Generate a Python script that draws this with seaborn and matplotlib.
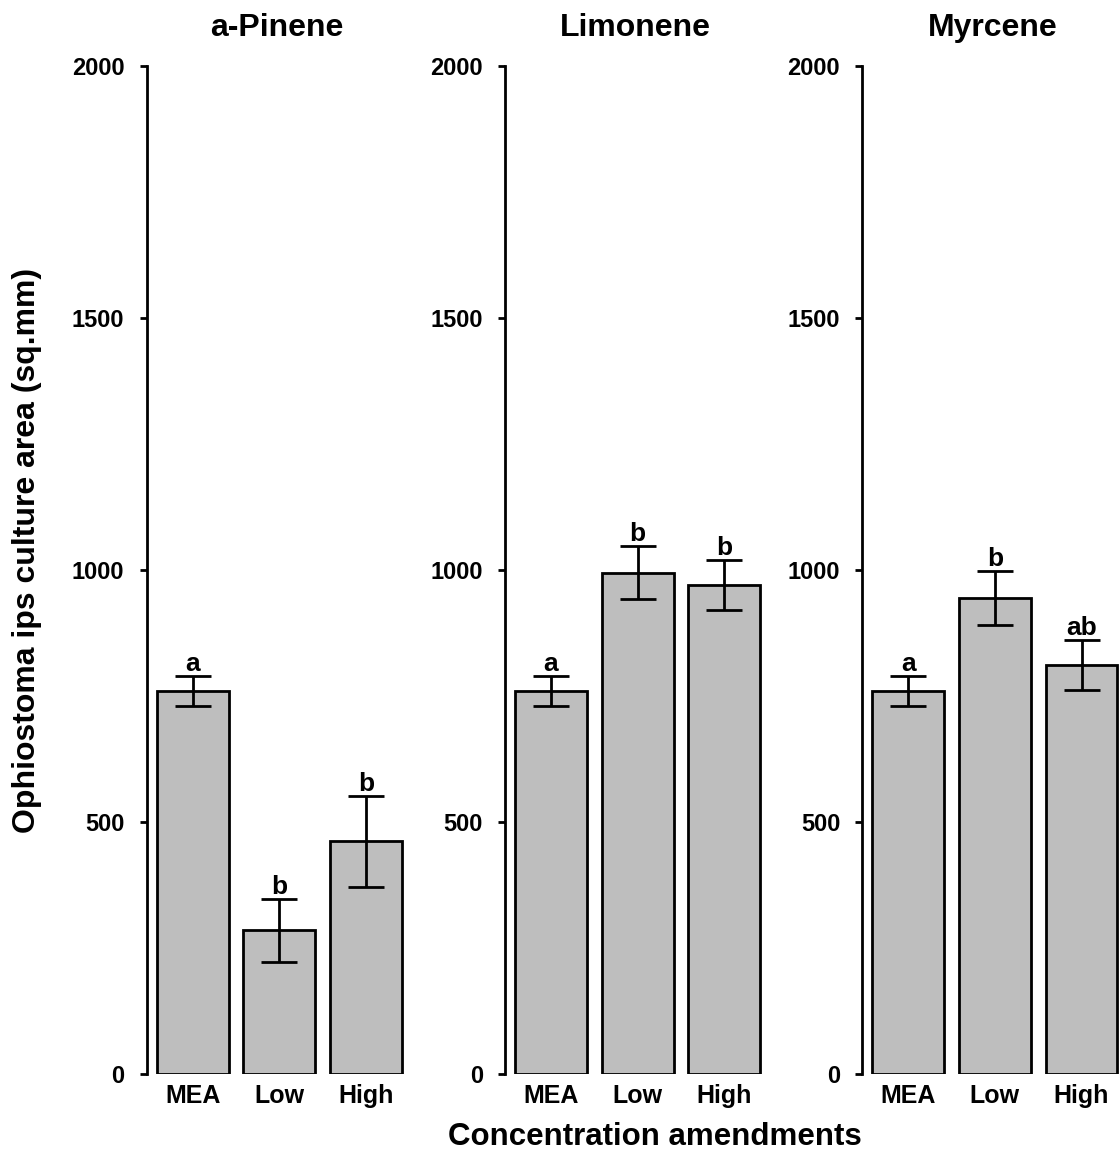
import matplotlib
matplotlib.use('Agg')
import matplotlib.pyplot as plt
import numpy as np
import pandas as pd
import seaborn as sns

sns.set_style('white')
plt.rcParams['font.family'] = ['Liberation Sans', 'DejaVu Sans']
plt.rcParams['font.weight'] = 'bold'
plt.rcParams['text.color'] = 'black'
plt.rcParams['xtick.color'] = 'black'
plt.rcParams['ytick.color'] = 'black'

levels = ['MEA', 'Low', 'High']
compounds = ['a-Pinene', 'Limonene', 'Myrcene']

# mean culture area and standard error per compound
pinene_mean = [760, 285, 462]
pinene_se = [29, 63, 90]
limonene_mean = [760, 995, 971]
limonene_se = [29, 52, 50]
myrcene_mean = [760, 945, 812]
myrcene_se = [29, 54, 50]

pinene_letters = ['a', 'b', 'b']
limonene_letters = ['a', 'b', 'b']
myrcene_letters = ['a', 'b', 'ab']

means = [pinene_mean, limonene_mean, myrcene_mean]
ses = [pinene_se, limonene_se, myrcene_se]
letters = [pinene_letters, limonene_letters, myrcene_letters]

fig = plt.figure(figsize=(11.2, 11.53), dpi=100)
lefts = [0.131, 0.451, 0.770]

for i, name in enumerate(compounds):
    ax = fig.add_axes([lefts[i], 0.0685, 0.232, 0.874])
    df = pd.DataFrame({'level': levels, 'area': means[i], 'se': ses[i]})
    sns.barplot(data=df, x='level', y='area', color='#bebebe', saturation=1,
                edgecolor='black', linewidth=2, width=0.83, errorbar=None, ax=ax)
    ax.errorbar(np.arange(len(levels)), df['area'], yerr=df['se'], fmt='none',
                ecolor='black', elinewidth=2, capsize=13, capthick=2)
    for j, lab in enumerate(letters[i]):
        ax.annotate(lab, (j, df['area'][j] + df['se'][j]), xytext=(0, 0),
                    textcoords='offset points', ha='center', va='bottom',
                    fontsize=19, fontweight='bold')
    ax.set_xlim(-0.53, 2.47)
    ax.set_ylim(0, 2000)
    ax.set_yticks([0, 500, 1000, 1500, 2000])
    for s in ['top', 'right', 'bottom']:
        ax.spines[s].set_visible(False)
    ax.spines['left'].set_linewidth(2)
    ax.spines['left'].set_color('black')
    ax.tick_params(axis='y', length=5, width=2, pad=11, labelsize=17, left=True)
    ax.tick_params(axis='x', length=0, pad=7, labelsize=18)
    for t in ax.get_xticklabels() + ax.get_yticklabels():
        t.set_fontweight('bold')
    ax.set_xlabel('')
    ax.set_ylabel('')
    ax.set_title(name, fontsize=23, fontweight='bold', pad=22)

fig.text(0.024, 0.523, 'Ophiostoma ips culture area (sq.mm)', rotation=90,
         ha='center', va='center', fontsize=23, fontweight='bold')
fig.text(0.585, 0.014, 'Concentration amendments', ha='center', va='center',
         fontsize=22.5, fontweight='bold')

plt.savefig('out.png', dpi=100)
